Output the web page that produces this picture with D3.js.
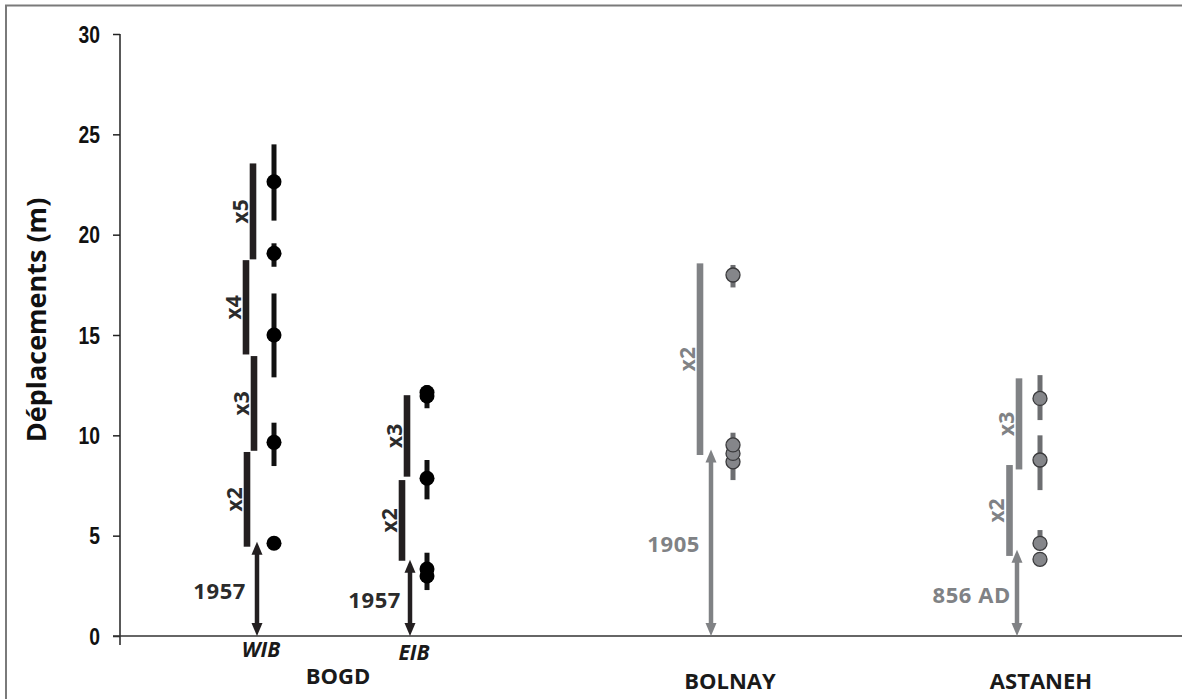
<!DOCTYPE html>
<html><head><meta charset="utf-8">
<script src="https://cdn.jsdelivr.net/npm/d3@7"></script>
<style>body{margin:0;background:#fff}svg{display:block}</style>
</head><body><svg id="c" width="1182" height="699"></svg>
<script>
// ---------- data ----------
const sites = ["WIB", "EIB", "BOLNAY", "ASTANEH"];
const groupNames = ["BOGD", "BOLNAY", "ASTANEH"];
const eventLabels = ["1957", "1957", "1905", "856 AD"];
const lastEventSlip = [4.7, 3.8, 9.3, 4.3];
const yTicks = [0, 5, 10, 15, 20, 25, 30];

// multiples bars: [label, low, high]
const wibBars = [["x2", 4.45, 9.17], ["x3", 9.23, 13.95], ["x4", 14.03, 18.73], ["x5", 18.77, 23.55]];
const eibBars = [["x2", 3.75, 7.77], ["x3", 7.94, 12.0]];
const bolnayBars = [["x2", 9.02, 18.57]];
const astanehBars = [["x2", 3.99, 8.52], ["x3", 8.3, 12.84]];

// measured offsets: [value, errLow, errHigh]
const wibPoints = [[4.62, 4.62, 4.62], [9.65, 8.47, 10.63], [15.0, 12.89, 17.07], [19.07, 18.4, 19.57], [22.64, 20.7, 24.5]];
const eibPoints = [[2.99, 2.29, 4.15], [3.34, 3.34, 3.34], [7.86, 6.81, 8.77], [11.96, 11.35, 11.96], [12.13, 12.13, 12.5]];
const bolnayPoints = [[8.68, 7.77, 10.13], [9.1, 9.1, 9.1], [9.52, 9.52, 9.52], [17.99, 17.37, 18.49]];
const astanehPoints = [[3.82, 3.82, 3.82], [4.62, 4.62, 5.28], [8.77, 7.27, 10.0], [11.84, 10.76, 13.0]];

const barsBySite = [wibBars, eibBars, bolnayBars, astanehBars];
const pointsBySite = [wibPoints, eibPoints, bolnayPoints, astanehPoints];

// ---------- layout / style ----------
const W = 1182, H = 699;
const DARK = "#231f20", GRAY = "#808285", GRAYPT = "#85868a", PTSTROKE = "#3a3a3c";
const siteColor = d3.scaleOrdinal(sites, [DARK, DARK, GRAY, GRAY]);
const x = d3.scaleOrdinal(sites, [257, 410, 711, 1017]);
const y = d3.scaleLinear().domain([0, 30]).range([636, 34]);
const barOffsets = [[-10, -3, -11, -4], [-8, -3], [-11], [-7.5, 2]];
const pointOffset = [17, 17, 22, 23];
const labelOffset = -13;
const eventLabelOffset = [-11, -9, -11, -6];
const groupX = [338, 730, 1041];
const FONT = "'Open Sans', sans-serif";

const svg = d3.select("#c");

// frame
svg.append("path").attr("d", `M6,${H} V5.5 H${W}`).attr("fill", "none")
  .attr("stroke", "#7a7a7a").attr("stroke-width", 2);

// axes
const yAxis = d3.axisLeft(y).tickValues(yTicks).tickSize(7).tickFormat(d3.format("d"));
const gy = svg.append("g").attr("transform", "translate(120,0)").call(yAxis);
gy.select(".domain").attr("stroke", "#222").attr("stroke-width", 1.5)
  .attr("d", `M0,${y(30)} V645`);
gy.selectAll(".tick line").attr("stroke", "#222").attr("stroke-width", 1.5);
gy.selectAll(".tick text").attr("x", 0).attr("dy", "0.35em")
  .attr("transform", "translate(-20,0) scale(0.84,1)")
  .attr("font-family", "'Liberation Sans', Arial, sans-serif")
  .attr("font-size", 23).attr("fill", "#111").attr("font-weight", 700);

const xAxisScale = d3.scaleLinear().domain([0, 1]).range([113, W]);
svg.append("line").attr("x1", xAxisScale(0)).attr("x2", xAxisScale(1))
  .attr("y1", y(0)).attr("y2", y(0)).attr("stroke", "#333").attr("stroke-width", 1.5);

// y title
svg.append("text")
  .attr("transform", `translate(46,${(185 + 455) / 2}) rotate(-90)`)
  .attr("text-anchor", "middle")
  .attr("font-family", FONT).attr("font-weight", 700)
  .attr("font-size", 27).attr("fill", "#111")
  .text("Déplacements (m)");

// arrows
sites.forEach((s, i) => {
  const col = siteColor(s);
  const cx = x(s), top = y(lastEventSlip[i]), bot = y(0);
  const g = svg.append("g");
  g.append("line").attr("x1", cx).attr("x2", cx).attr("y1", top + 8).attr("y2", bot - 8)
    .attr("stroke", col).attr("stroke-width", 4.5);
  g.append("path").attr("d", `M${cx},${top} L${cx - 5.5},${top + 13} L${cx + 5.5},${top + 13} Z`).attr("fill", col);
  g.append("path").attr("d", `M${cx},${bot} L${cx - 5.5},${bot - 13} L${cx + 5.5},${bot - 13} Z`).attr("fill", col);
  svg.append("text")
    .attr("x", cx + eventLabelOffset[i]).attr("y", y(lastEventSlip[i] / 2) + 2)
    .attr("dy", "0.35em").attr("text-anchor", "end")
    .attr("font-family", FONT).attr("font-weight", 700)
    .attr("font-size", 22).attr("letter-spacing", 0.6).attr("fill", i < 2 ? "#2b2b2b" : "#808285")
    .text(eventLabels[i]);
});

// multiple bars + labels
sites.forEach((s, i) => {
  const col = siteColor(s);
  barsBySite[i].forEach((b, j) => {
    const bx = x(s) + barOffsets[i][j];
    svg.append("rect").attr("x", bx - 3.3).attr("width", 6.6)
      .attr("y", y(b[2])).attr("height", y(b[1]) - y(b[2])).attr("fill", col);
    svg.append("text")
      .attr("transform", `translate(${bx + labelOffset + 7.5},${y((b[1] + b[2]) / 2)}) rotate(-90)`)
      .attr("text-anchor", "middle")
      .attr("font-family", FONT).attr("font-weight", 700)
      .attr("font-size", 21).attr("fill", i < 2 ? "#2b2b2b" : "#808285")
      .text(b[0]);
  });
});

// points with error bars
sites.forEach((s, i) => {
  const px = x(s) + pointOffset[i];
  const dark = i < 2;
  const ecol = dark ? "#111" : "#6d6e71";
  pointsBySite[i].forEach(p => {
    if (p[2] > p[1]) {
      svg.append("line").attr("x1", px).attr("x2", px).attr("y1", y(p[2])).attr("y2", y(p[1]))
        .attr("stroke", ecol).attr("stroke-width", 5);
    }
  });
  pointsBySite[i].forEach(p => {
    svg.append("circle").attr("cx", px).attr("cy", y(p[0])).attr("r", dark ? 7.5 : 7)
      .attr("fill", dark ? "#000" : GRAYPT)
      .attr("stroke", dark ? "none" : PTSTROKE).attr("stroke-width", 1.3);
  });
});

// x labels
sites.slice(0, 2).forEach(s => {
  svg.append("text").attr("x", x(s) + 4).attr("y", s === "WIB" ? 657 : 660)
    .attr("text-anchor", "middle")
    .attr("font-family", FONT).attr("font-weight", 700)
    .attr("font-style", "italic").attr("font-size", 21).attr("fill", "#1a1a1a")
    .text(s);
});
groupNames.forEach((g, i) => {
  svg.append("text").attr("x", groupX[i]).attr("y", i === 0 ? 684 : 689)
    .attr("text-anchor", "middle")
    .attr("font-family", FONT).attr("font-weight", 700)
    .attr("font-size", 22).attr("fill", "#1a1a1a")
    .text(g);
});
</script></body></html>
